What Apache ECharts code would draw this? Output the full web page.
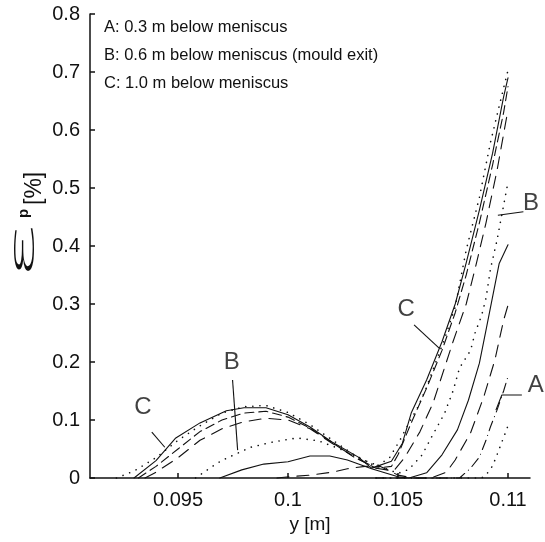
<!DOCTYPE html>
<html>
<head>
<meta charset="utf-8">
<script src="https://cdn.jsdelivr.net/npm/echarts@6/dist/echarts.min.js"></script>
<style>
  html, body { margin: 0; padding: 0; background: #fff; }
  #main { width: 545px; height: 542px; }
</style>
</head>
<body>
<div id="main"></div>
<script>
// tick labels
const xTicks = [0.095, 0.1, 0.105, 0.11];
const legendLines = [
  'A: 0.3 m below meniscus',
  'B: 0.6 m below meniscus (mould exit)',
  'C: 1.0 m below meniscus'
];

// C, dotted
const cDotX = [0.0922, 0.0930, 0.0940, 0.0950, 0.0960, 0.0970, 0.0980, 0.0990, 0.1000, 0.1010, 0.1020, 0.1030, 0.1040, 0.1046, 0.1051, 0.1054, 0.1059, 0.1063, 0.1067, 0.1071, 0.1076, 0.1081, 0.1087, 0.1092, 0.1097, 0.1100];
const cDotY = [0, 0.012, 0.035, 0.065, 0.09, 0.112, 0.123, 0.125, 0.113, 0.092, 0.066, 0.04, 0.02, 0.034, 0.066, 0.088, 0.122, 0.157, 0.198, 0.238, 0.295, 0.393, 0.484, 0.578, 0.657, 0.703];
// C, solid
const cSolX = [0.0930, 0.0940, 0.0949, 0.0960, 0.0972, 0.0980, 0.0990, 0.1000, 0.1010, 0.1020, 0.1032, 0.1038, 0.1047, 0.1052, 0.1056, 0.1063, 0.1070, 0.1076, 0.1081, 0.1087, 0.1093, 0.1098, 0.1100];
const cSolY = [0, 0.03, 0.069, 0.095, 0.116, 0.121, 0.121, 0.109, 0.088, 0.062, 0.036, 0.017, 0.029, 0.06, 0.112, 0.169, 0.235, 0.3, 0.371, 0.462, 0.56, 0.657, 0.69];
// C, dashed (upper)
const cDashX = [0.0932, 0.094, 0.095, 0.096, 0.097, 0.098, 0.099, 0.100, 0.101, 0.102, 0.103, 0.104, 0.1047, 0.1050, 0.1056, 0.1063, 0.1070, 0.1076, 0.1081, 0.1087, 0.1093, 0.1098, 0.1100];
const cDashY = [0, 0.02, 0.05, 0.08, 0.1, 0.112, 0.115, 0.105, 0.086, 0.061, 0.036, 0.017, 0.02, 0.04, 0.095, 0.155, 0.22, 0.285, 0.35, 0.44, 0.54, 0.63, 0.675];
// C, long dashed (lower)
const cLongX = [0.0935, 0.094, 0.095, 0.096, 0.097, 0.098, 0.099, 0.100, 0.101, 0.102, 0.103, 0.104, 0.1048, 0.1053, 0.1060, 0.1066, 0.1075, 0.1081, 0.1085, 0.1090, 0.1095, 0.1100];
const cLongY = [0, 0.01, 0.035, 0.065, 0.085, 0.097, 0.103, 0.1, 0.085, 0.06, 0.037, 0.017, 0.012, 0.035, 0.08, 0.13, 0.235, 0.3, 0.36, 0.44, 0.53, 0.635];
// B, dotted
const bDotX = [0.0958, 0.0968, 0.0972, 0.0983, 0.0993, 0.1004, 0.1014, 0.1025, 0.1035, 0.1042, 0.1050, 0.1055, 0.1061, 0.1066, 0.1071, 0.1075, 0.1078, 0.1083, 0.1085, 0.1088, 0.1090, 0.1092, 0.1095, 0.1097, 0.1100];
const bDotY = [0, 0.026, 0.034, 0.053, 0.062, 0.069, 0.064, 0.048, 0.03, 0.02, 0.008, 0.015, 0.04, 0.076, 0.11, 0.15, 0.19, 0.22, 0.25, 0.28, 0.31, 0.36, 0.41, 0.45, 0.51];
// B, solid
const bSolX = [0.0969, 0.0979, 0.0989, 0.1000, 0.1010, 0.1019, 0.1027, 0.1038, 0.1050, 0.1055, 0.1063, 0.1070, 0.1077, 0.1082, 0.1087, 0.1090, 0.1096, 0.1100];
const bSolY = [0, 0.014, 0.024, 0.028, 0.038, 0.038, 0.031, 0.016, 0.002, 0, 0.009, 0.04, 0.083, 0.134, 0.198, 0.255, 0.37, 0.402];
// A, dashed
const aDashX = [0.0995, 0.1003, 0.1010, 0.1020, 0.1027, 0.1035, 0.1042, 0.1050, 0.1057, 0.1065, 0.1072, 0.1076, 0.1083, 0.1089, 0.1094, 0.1098, 0.1100];
const aDashY = [0, 0.003, 0.005, 0.01, 0.016, 0.02, 0.02, 0.005, 0, 0, 0.01, 0.031, 0.078, 0.14, 0.203, 0.272, 0.298];
// A, dash-dot
const aDdX = [0.1040, 0.1078, 0.1083, 0.1087, 0.1090, 0.1092, 0.1095, 0.1098, 0.1100];
const aDdY = [0, 0, 0.017, 0.036, 0.065, 0.088, 0.117, 0.15, 0.175];
// A, dotted
const aDotX = [0.1040, 0.1088, 0.1090, 0.1093, 0.1095, 0.1097, 0.1100];
const aDotY = [0, 0, 0.005, 0.021, 0.04, 0.06, 0.09];

// curve annotations (data coordinates)
const annoText = [
  { t: 'C', x: 0.10537, y: 0.29 },
  { t: 'B', x: 0.11104, y: 0.474 },
  { t: 'A', x: 0.11126, y: 0.16 },
  { t: 'C', x: 0.0934, y: 0.121 },
  { t: 'B', x: 0.09744, y: 0.2 }
];
const annoLines = [
  [[0.10573, 0.264], [0.10687, 0.224]],
  [[0.1107, 0.459], [0.10954, 0.453]],
  [[0.11063, 0.143], [0.10972, 0.143], [0.10945, 0.117]],
  [[0.09381, 0.079], [0.0944, 0.053]],
  [[0.09748, 0.169], [0.09771, 0.048]]
];

const FONT = 'Liberation Sans, Arial, Helvetica, sans-serif';
const zip = (xs, ys) => xs.map((x, i) => [x, ys[i]]);

const curve = (xs, ys, dash) => ({
  type: 'line',
  data: zip(xs, ys),
  symbol: 'none',
  silent: true,
  clip: false,
  lineStyle: { color: '#111', width: 1.1, type: dash, cap: 'round' }
});

const dotted = [0.1, 7];
const dashed = [9, 5];
const longDash = [12, 8];
const dashDot = [10, 5, 0.1, 5];

const series = [
  curve(cDotX, cDotY, dotted),
  curve(cSolX, cSolY, 'solid'),
  curve(cDashX, cDashY, dashed),
  curve(cLongX, cLongY, longDash),
  curve(bDotX, bDotY, dotted),
  curve(bSolX, bSolY, 'solid'),
  curve(aDashX, aDashY, longDash),
  curve(aDdX, aDdY, dashDot),
  curve(aDotX, aDotY, dotted)
];
series.forEach(s => { if (Array.isArray(s.lineStyle.type) && s.lineStyle.type[0] < 1) s.lineStyle.width = 1.6; });

annoLines.forEach(pts => series.push({
  type: 'line',
  data: pts,
  symbol: 'none',
  silent: true,
  clip: false,
  lineStyle: { color: '#111', width: 1.1 }
}));

series.push({
  type: 'scatter',
  data: annoText.map(a => ({ value: [a.x, a.y], name: a.t })),
  symbolSize: 0,
  silent: true,
  clip: false,
  label: {
    show: true,
    position: 'inside',
    formatter: p => p.name,
    color: '#111',
    fontSize: 24,
    fontFamily: FONT
  }
});

const myChart = echarts.init(document.getElementById('main'));
const option = {
  animation: false,
  backgroundColor: '#fff',
  grid: { left: 90, top: 14, right: 15, bottom: 64 },
  xAxis: {
    type: 'value',
    min: 0.091,
    max: 0.111,
    name: 'y [m]',
    nameLocation: 'middle',
    nameGap: 34,
    nameTextStyle: { color: '#111', fontSize: 19, fontFamily: FONT },
    splitLine: { show: false },
    axisLine: { show: true, lineStyle: { color: '#111', width: 1.5 } },
    axisTick: { show: true, inside: true, length: 5, customValues: xTicks, lineStyle: { color: '#111', width: 1.5 } },
    axisLabel: { color: '#111', fontSize: 20, fontFamily: FONT, margin: 12, customValues: xTicks }
  },
  yAxis: {
    type: 'value',
    min: 0,
    max: 0.8,
    interval: 0.1,
    splitLine: { show: false },
    axisLine: { show: true, lineStyle: { color: '#111', width: 1.5 } },
    axisTick: { show: true, inside: true, length: 5, lineStyle: { color: '#111', width: 1.5 } },
    axisLabel: { color: '#111', fontSize: 20, fontFamily: FONT, margin: 10 }
  },
  graphic: [
    ...legendLines.map((t, i) => ({
      type: 'text',
      left: 104,
      top: 19 + i * 28,
      silent: true,
      style: { text: t, fill: '#111', fontSize: 16.5, fontFamily: FONT }
    })),
    {
      // y-axis title, rotated to read bottom to top
      type: 'group',
      x: 36,
      y: 220,
      rotation: Math.PI / 2,
      silent: true,
      children: [
        {
          type: 'text',
          x: -61,
          y: -11,
          scaleX: 3.1,
          style: {
            text: 'ε', fill: '#111', fontSize: 36, fontWeight: 200,
            fontFamily: "'DejaVu Sans ExtraLight', 'DejaVu Sans'",
            align: 'left', verticalAlign: 'middle'
          }
        },
        {
          type: 'text',
          x: 2,
          y: -12,
          style: { text: 'p', fill: '#111', fontSize: 15, fontWeight: 'bold', fontFamily: FONT, align: 'left', verticalAlign: 'middle' }
        },
        {
          type: 'text',
          x: 15,
          y: -1,
          style: { text: '[%]', fill: '#111', fontSize: 23, fontFamily: FONT, align: 'left', verticalAlign: 'middle' }
        }
      ]
    }
  ],
  series
};
myChart.setOption(option);
</script>
</body>
</html>
